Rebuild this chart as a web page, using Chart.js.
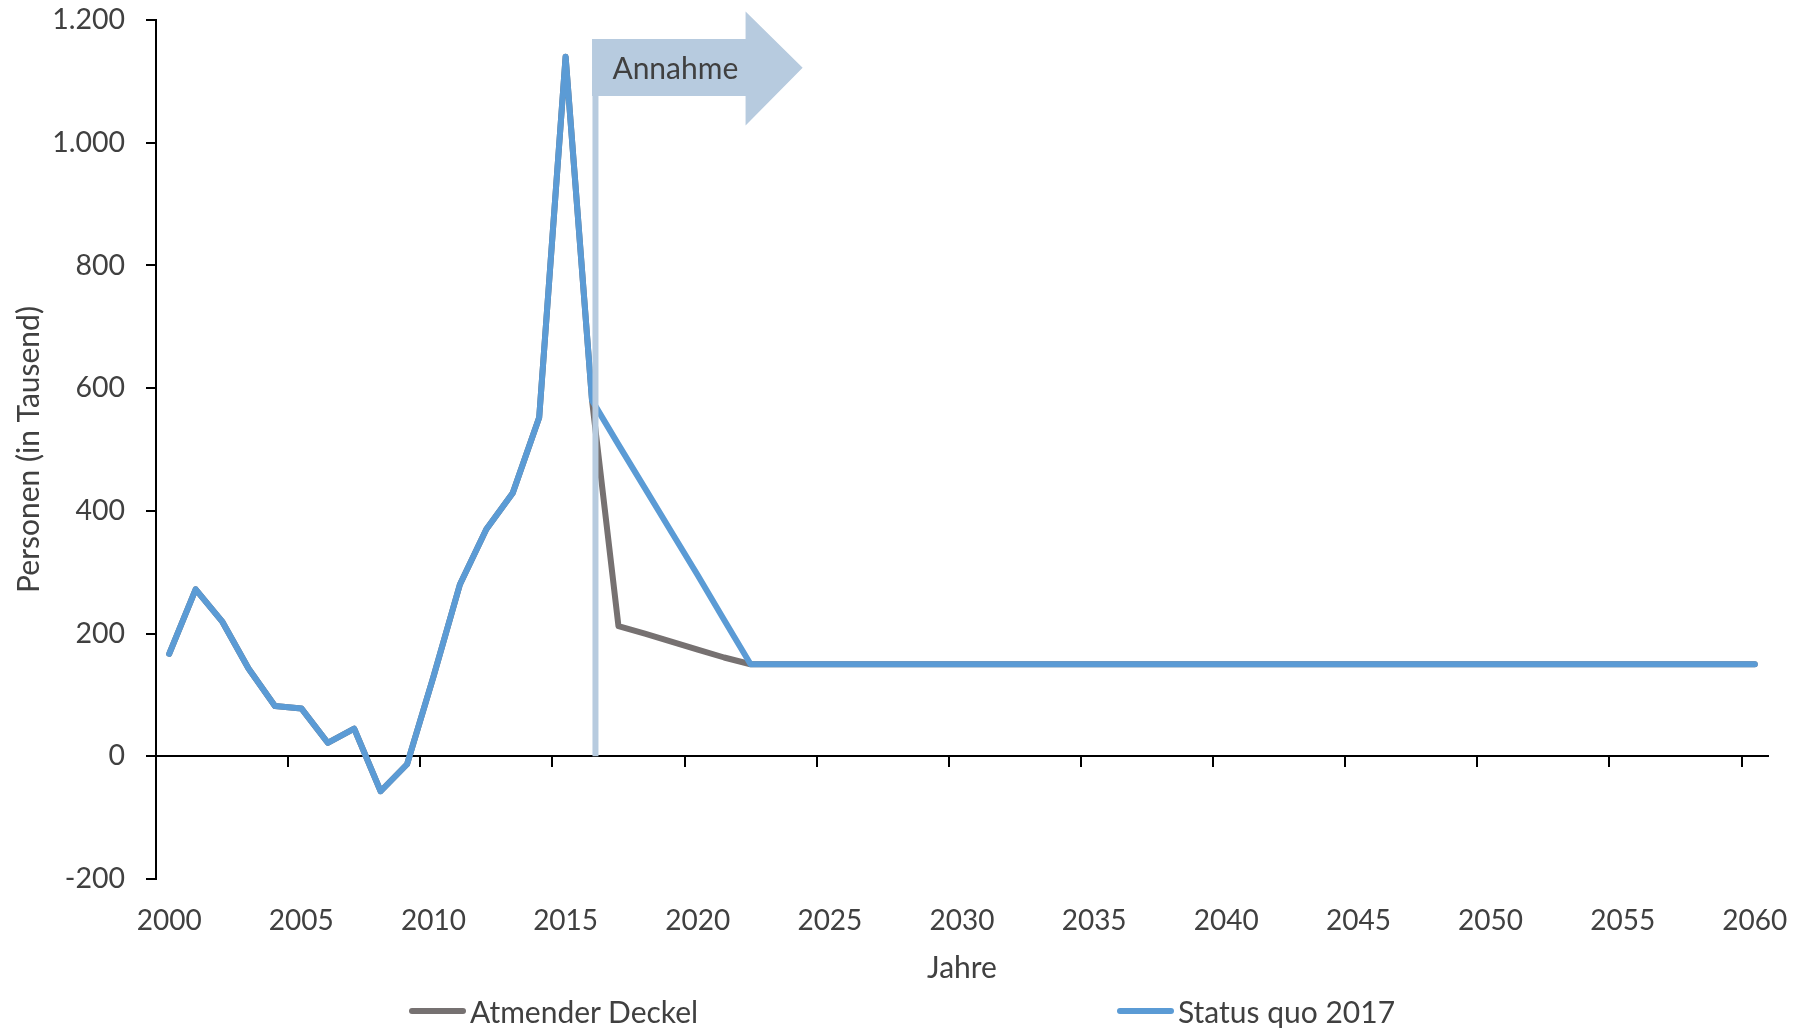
<!DOCTYPE html>
<html>
<head>
<meta charset="utf-8">
<script src="https://cdn.jsdelivr.net/npm/chart.js@4.4.1/dist/chart.umd.min.js"></script>
<style>
  html, body { margin: 0; padding: 0; background: #fff; }
  #wrap { position: relative; width: 1808px; height: 1029px; }
  #legend { position: absolute; left: 0; top: 996px; width: 1808px; height: 30px;
            font-family: Lato, sans-serif; font-size: 30px; color: #404040; }
  .item { position: absolute; top: 0; height: 30px; display: flex; align-items: center; white-space: nowrap; }
  .swatch { width: 57px; height: 6px; border-radius: 3px; margin-right: 4px; }
</style>
</head>
<body>
<div id="wrap">
  <canvas id="chart"></canvas>
  <div id="legend"></div>
</div>
<script>
const years = [
  2000, 2001, 2002, 2003, 2004, 2005, 2006, 2007, 2008, 2009,
  2010, 2011, 2012, 2013, 2014, 2015, 2016, 2017, 2018, 2019,
  2020, 2021, 2022, 2023, 2024, 2025, 2026, 2027, 2028, 2029,
  2030, 2031, 2032, 2033, 2034, 2035, 2036, 2037, 2038, 2039,
  2040, 2041, 2042, 2043, 2044, 2045, 2046, 2047, 2048, 2049,
  2050, 2051, 2052, 2053, 2054, 2055, 2056, 2057, 2058, 2059,
  2060
];

// Personen in Tausend
const atmenderDeckel = [
  167, 272, 220, 143, 82, 78, 22, 45, -57, -13,
  130, 280, 370, 429, 552, 1140, 580, 212, 200, 187,
  174, 161, 150, 150, 150, 150, 150, 150, 150, 150,
  150, 150, 150, 150, 150, 150, 150, 150, 150, 150,
  150, 150, 150, 150, 150, 150, 150, 150, 150, 150,
  150, 150, 150, 150, 150, 150, 150, 150, 150, 150,
  150
];

const statusQuo2017 = [
  167, 272, 220, 143, 82, 78, 22, 45, -57, -13,
  130, 280, 370, 429, 552, 1140, 580, 508, 437, 366,
  295, 222, 150, 150, 150, 150, 150, 150, 150, 150,
  150, 150, 150, 150, 150, 150, 150, 150, 150, 150,
  150, 150, 150, 150, 150, 150, 150, 150, 150, 150,
  150, 150, 150, 150, 150, 150, 150, 150, 150, 150,
  150
];

const xTickYears = [2000, 2005, 2010, 2015, 2020, 2025, 2030, 2035, 2040, 2045, 2050, 2055, 2060];
const yTicks = [-200, 0, 200, 400, 600, 800, 1000, 1200];

const annahmeYear = 2016;

const textColor = '#404040';
const fontFamily = 'Lato, sans-serif';

const fmtDe = (v) => {
  const s = Math.abs(v).toString().replace(/\B(?=(\d{3})+(?!\d))/g, '.');
  return v < 0 ? '-' + s : s;
};

// Pfeil "Annahme" mit senkrechter Linie
const annahmePlugin = {
  id: 'annahme',
  afterDatasetsDraw(chart) {
    const { ctx, scales: { x, y } } = chart;
    const i = years.indexOf(annahmeYear);
    const cx = x.getPixelForValue(i);
    const step = x.getPixelForValue(i + 1) - cx;
    const fill = '#b7cbdf';

    ctx.save();
    ctx.strokeStyle = fill;
    ctx.lineWidth = 6;
    ctx.beginPath();
    ctx.moveTo(cx + 0.13 * step, y.getPixelForValue(1100));
    ctx.lineTo(cx + 0.13 * step, y.getPixelForValue(0));
    ctx.stroke();

    const left = cx;
    const bodyRight = cx + 5.81 * step;
    const tip = cx + 7.97 * step;
    ctx.fillStyle = fill;
    ctx.beginPath();
    ctx.moveTo(left, y.getPixelForValue(1169));
    ctx.lineTo(bodyRight, y.getPixelForValue(1169));
    ctx.lineTo(bodyRight, y.getPixelForValue(1214));
    ctx.lineTo(tip, y.getPixelForValue(1122));
    ctx.lineTo(bodyRight, y.getPixelForValue(1028));
    ctx.lineTo(bodyRight, y.getPixelForValue(1076));
    ctx.lineTo(left, y.getPixelForValue(1076));
    ctx.closePath();
    ctx.fill();

    ctx.fillStyle = textColor;
    ctx.font = '30px Lato';
    ctx.textBaseline = 'middle';
    ctx.textAlign = 'left';
    ctx.fillText('Annahme', cx + 0.77 * step, y.getPixelForValue(1120));
    ctx.restore();
  }
};

// Legende als HTML unter dem Diagramm
const htmlLegendPlugin = {
  id: 'htmlLegend',
  afterUpdate(chart) {
    const box = document.getElementById('legend');
    box.innerHTML = '';
    const items = chart.options.plugins.legend.labels.generateLabels(chart)
      .sort((a, b) => a.datasetIndex - b.datasetIndex);
    const lefts = [409, 1117];
    items.forEach((item, k) => {
      const el = document.createElement('div');
      el.className = 'item';
      el.style.left = lefts[k] + 'px';
      const sw = document.createElement('span');
      sw.className = 'swatch';
      sw.style.background = item.strokeStyle;
      const tx = document.createElement('span');
      tx.textContent = item.text;
      el.append(sw, tx);
      box.append(el);
    });
  }
};

const ctx = document.getElementById('chart').getContext('2d');

new Chart(ctx, {
  type: 'line',
  data: {
    labels: years,
    datasets: [
      {
        label: 'Atmender Deckel',
        data: atmenderDeckel,
        borderColor: '#767171',
        backgroundColor: '#767171',
        borderWidth: 6,
        pointRadius: 0,
        borderCapStyle: 'round',
        borderJoinStyle: 'round',
        tension: 0,
        order: 1
      },
      {
        label: 'Status quo 2017',
        data: statusQuo2017,
        borderColor: '#5b9bd5',
        backgroundColor: '#5b9bd5',
        borderWidth: 6,
        pointRadius: 0,
        borderCapStyle: 'round',
        borderJoinStyle: 'round',
        tension: 0,
        order: 0
      }
    ]
  },
  options: {
    responsive: true,
    maintainAspectRatio: false,
    animation: false,
    layout: { padding: { left: 0, right: 40, top: 20, bottom: 30 } },
    plugins: {
      legend: { display: false },
      tooltip: { enabled: false }
    },
    scales: {
      x: {
        type: 'category',
        position: 'bottom',
        offset: true,
        grid: { display: false, drawTicks: false },
        border: { display: false },
        ticks: {
          autoSkip: false,
          maxRotation: 0,
          padding: 25,
          color: textColor,
          font: { family: fontFamily, size: 28 },
          callback(value, index) {
            const yr = years[index];
            return xTickYears.includes(yr) ? String(yr) : '';
          }
        },
        title: {
          display: true,
          text: 'Jahre',
          color: textColor,
          font: { family: fontFamily, size: 30 },
          padding: { top: 4, bottom: 13 }
        },
        afterFit(scale) {
          scale.height = 120;
          scale.paddingLeft = 0;
          scale.paddingRight = 0;
        }
      },
      xZero: {
        type: 'category',
        labels: years,
        position: { y: 0 },
        offset: true,
        grid: {
          offset: true,
          drawOnChartArea: false,
          drawTicks: true,
          tickLength: 10,
          lineWidth: 2,
          color: (c) => (c.index % 5 === 0 && c.index <= 60 ? '#000' : 'rgba(0,0,0,0)')
        },
        border: { display: true, color: '#000', width: 2 },
        ticks: { display: false, autoSkip: false }
      },
      y: {
        type: 'linear',
        min: -200,
        max: 1200,
        afterBuildTicks(scale) { scale.ticks = yTicks.map(v => ({ value: v })); },
        grid: {
          drawOnChartArea: false,
          drawTicks: true,
          tickLength: 10,
          lineWidth: 2,
          color: '#000'
        },
        border: { display: true, color: '#000', width: 2 },
        ticks: {
          padding: 21,
          color: textColor,
          font: { family: fontFamily, size: 28.5 },
          callback: (v) => fmtDe(v)
        },
        title: {
          display: true,
          text: 'Personen (in Tausend)',
          color: textColor,
          font: { family: fontFamily, size: 30 },
          padding: { top: 11, bottom: 0 }
        },
        afterFit(scale) {
          scale.width = 156;
          scale.paddingTop = 0;
          scale.paddingBottom = 0;
        }
      }
    }
  },
  plugins: [annahmePlugin, htmlLegendPlugin]
});
</script>
</body>
</html>
